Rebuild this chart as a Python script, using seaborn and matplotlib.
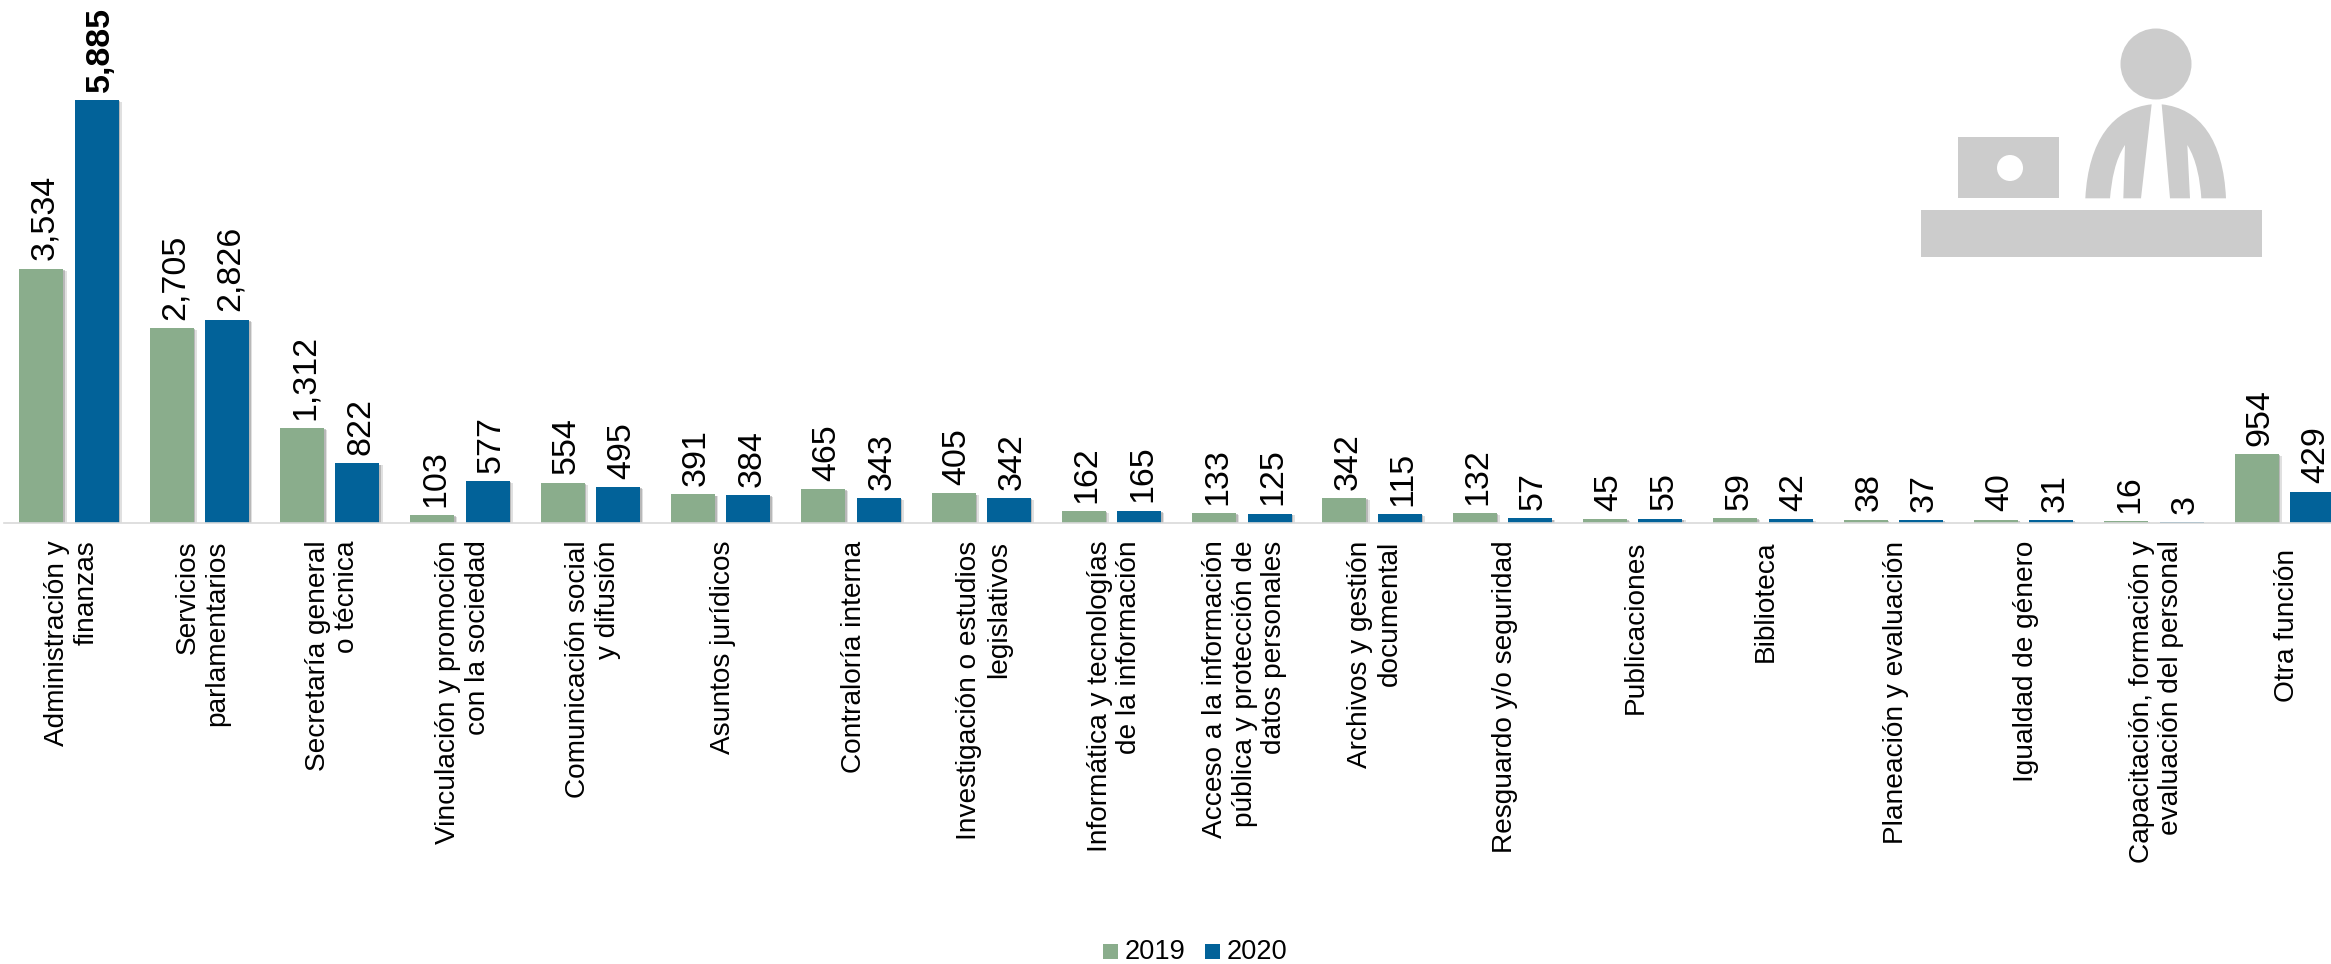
import matplotlib
matplotlib.use("Agg")
import matplotlib.pyplot as plt
import matplotlib.patheffects as pe
from matplotlib.patches import Circle, PathPatch, Rectangle
from matplotlib.path import Path
from matplotlib.transforms import ScaledTranslation
import pandas as pd
import seaborn as sns

categories = [
    "Administración y\nfinanzas", "Servicios\nparlamentarios", "Secretaría general\no técnica",
    "Vinculación y promoción\ncon la sociedad", "Comunicación social\ny difusión", "Asuntos jurídicos",
    "Contraloría interna", "Investigación o estudios\nlegislativos",
    "Informática y tecnologías\nde la información",
    "Acceso a la información\npública y protección de\ndatos personales",
    "Archivos y gestión\ndocumental", "Resguardo y/o seguridad", "Publicaciones", "Biblioteca",
    "Planeación y evaluación", "Igualdad de género",
    "Capacitación, formación y\nevaluación del personal", "Otra función",
]
values_2019 = [3534, 2705, 1312, 103, 554, 391, 465, 405, 162, 133, 342, 132, 45, 59, 38, 40, 16, 954]
values_2020 = [5885, 2826, 822, 577, 495, 384, 343, 342, 165, 125, 115, 57, 55, 42, 37, 31, 3, 429]
years = ["2019", "2020"]
colors = ["#8AAD8C", "#026299"]

W, H = 2331, 964
BASE = 522.5
PX_PER_UNIT = 0.0718
AX_LEFT, GROUP = 4, 130.3

sns.set_theme(style="white")
plt.rcParams["font.family"] = ["Liberation Sans", "DejaVu Sans"]

df = pd.DataFrame({
    "cat": categories * 2,
    "year": [years[0]] * len(categories) + [years[1]] * len(categories),
    "val": values_2019 + values_2020,
})

fig = plt.figure(figsize=(W / 100, H / 100), dpi=100, facecolor="white")
n = len(categories)
ax_h = 520
ax = fig.add_axes([AX_LEFT / W, 1 - BASE / H, n * GROUP / W, ax_h / H])
sns.barplot(data=df, x="cat", y="val", hue="year", palette=colors, order=categories,
            width=0.85, gap=0.205, saturation=1, ax=ax, legend=False, errorbar=None, linewidth=0)
ax.set_xlim(-0.5, n - 0.5)
ax.set_ylim(0, ax_h / PX_PER_UNIT)
ax.set_xlabel("")
ax.set_ylabel("")
ax.set_yticks([])
for s in ["top", "left", "right"]:
    ax.spines[s].set_visible(False)
ax.spines["bottom"].set_color("#D9D9D9")
ax.spines["bottom"].set_linewidth(1.2)
ax.tick_params(axis="x", length=0, pad=13)
ax.set_xticks(range(n))
ax.set_xticklabels(categories, rotation=90, fontsize=20.2, color="black", ha="center", va="top",
                   multialignment="right", linespacing=1.17)
for k, lab in enumerate(ax.get_xticklabels()):
    dy = -6 / 72 if k == n - 1 else 0
    lab.set_transform(lab.get_transform() + ScaledTranslation(2 / 72, dy, fig.dpi_scale_trans))

shadow = [pe.SimplePatchShadow(offset=(2.2, -1.4), shadow_rgbFace="#999999", alpha=0.3),
          pe.SimplePatchShadow(offset=(1.1, -0.8), shadow_rgbFace="#888888", alpha=0.45),
          pe.Normal()]
for i, cont in enumerate(ax.containers):
    for b in cont:
        b.set_path_effects(shadow)
    labels = [f"{int(v):,}" for v in cont.datavalues]
    texts = ax.bar_label(cont, labels=labels, rotation=90, padding=6, fontsize=24.5, color="black")
    for t, v in zip(texts, cont.datavalues):
        t.set_clip_on(False)
        x_off, y_off = t.xyann
        t.xyann = (x_off + 2.5, y_off)
        if v == max(values_2020):
            t.set_fontweight("bold")

# overlay in pixel coordinates for the icon and legend
ov = fig.add_axes([0, 0, 1, 1], facecolor="none")
ov.set_xlim(0, W)
ov.set_ylim(H, 0)
ov.axis("off")
ICON = "#CCCCCC"
ov.add_patch(Rectangle((1921, 210), 341, 47, fc=ICON, ec="none"))
ov.add_patch(Rectangle((1958, 137), 101, 61, fc=ICON, ec="none"))
ov.add_patch(Circle((2010, 168), 13, fc="white", ec="none"))
ov.add_patch(Circle((2156, 64), 35.5, fc=ICON, ec="none"))
M, L, C, Z = Path.MOVETO, Path.LINETO, Path.CURVE4, Path.CLOSEPOLY
def p(x, y):
    return (1880 + x / 3, y / 3)
left = [p(616, 595), p(625, 420), p(700, 325), p(815, 313), p(783, 595), p(730, 595), p(735, 435),
        p(705, 480), p(695, 540), p(690, 595), p(616, 595)]
right = [p(1038, 595), p(1030, 420), p(960, 325), p(845, 313), p(870, 595), p(930, 595), p(922, 435),
         p(950, 480), p(960, 540), p(964, 595), p(1038, 595)]
codes = [M, C, C, C, L, L, L, C, C, C, Z]
ov.add_patch(PathPatch(Path(left, codes), fc=ICON, ec="none"))
ov.add_patch(PathPatch(Path(right, codes), fc=ICON, ec="none"))

for x0, c, y in zip([1103, 1205], colors, years):
    ov.add_patch(Rectangle((x0, 944), 15, 15, fc=c, ec="none"))
    ov.text(x0 + 22, 949, y, fontsize=19.6, va="center_baseline", ha="left", color="black")

fig.savefig("out.png", dpi=100, facecolor="white")
